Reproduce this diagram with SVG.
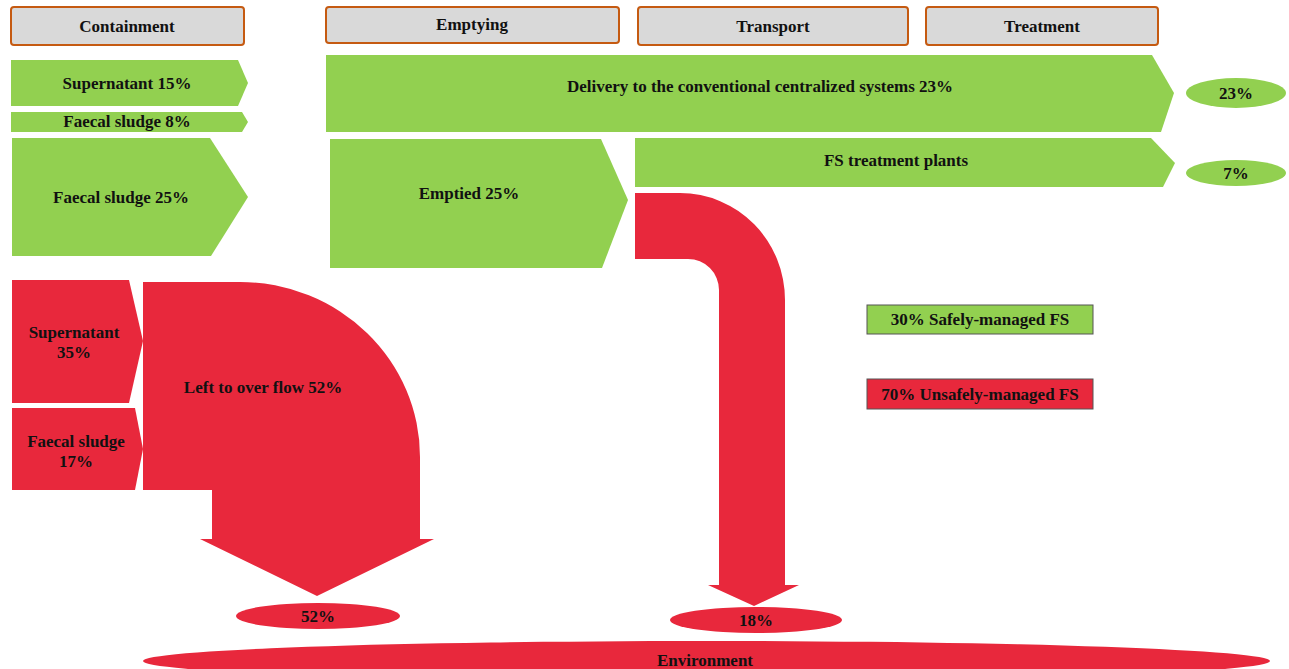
<svg xmlns="http://www.w3.org/2000/svg" width="1289" height="669" viewBox="0 0 1289 669">
<style>
.hdr{fill:#d9d9d9;stroke:#c55a11;stroke-width:2}
.g{fill:#92d050}
.r{fill:#e8283c}
.t{font-family:"Liberation Serif","Times New Roman",serif;font-weight:bold;font-size:17px;fill:#111;text-anchor:middle}
.leg{stroke:#555;stroke-width:1}
</style>
<rect width="1289" height="669" fill="#ffffff"/>
<g id="headers">
<g id="h-containment"><rect class="hdr" x="11" y="7" width="233" height="38" rx="3"/><text class="t" x="127" y="32">Containment</text></g>
<g id="h-emptying"><rect class="hdr" x="326" y="7" width="293" height="36" rx="3"/><text class="t" x="472" y="30">Emptying</text></g>
<g id="h-transport"><rect class="hdr" x="638" y="7" width="270" height="38" rx="3"/><text class="t" x="773" y="32">Transport</text></g>
<g id="h-treatment"><rect class="hdr" x="926" y="7" width="232" height="38" rx="3"/><text class="t" x="1042" y="32">Treatment</text></g>
</g>
<g id="connectors">
<path id="c-overflow" class="r" d="M143,282 L240,282 A180,175 0 0 1 420,457 L420,539 L434,539 L317,596 L200,539 L212,539 L212,490 L143,490 Z"/>
<path id="c-emptied-env" class="r" d="M635,193 L680,193 A105,107 0 0 1 785,300 L785,585 L799,585 L754,606 L708,585 L719,585 L719,290 A31,31 0 0 0 688,259 L635,259 Z"/>
</g>
<g id="n-supernatant15"><path class="g" d="M11,60 L238,60 L248,83 L238,106 L11,106 Z"/><text class="t" x="127" y="89">Supernatant 15%</text></g>
<g id="n-faecal8"><path class="g" d="M11,112 L242,112 L248,122 L242,132 L11,132 Z"/><text class="t" x="127" y="127">Faecal sludge 8%</text></g>
<g id="n-faecal25"><path class="g" d="M12,138 L210,138 L248,197 L211,256 L12,256 Z"/><text class="t" x="121" y="203">Faecal sludge 25%</text></g>
<g id="n-delivery"><path class="g" d="M326,55 L1152,55 L1174,93 L1161,132 L326,132 Z"/><text class="t" x="760" y="92">Delivery to the conventional centralized systems 23%</text></g>
<g id="n-emptied"><path class="g" d="M330,139 L601,139 L628,200 L602,268 L330,268 Z"/><text class="t" x="469" y="199">Emptied 25%</text></g>
<g id="n-fstp"><path class="g" d="M635,138 L1151,138 L1175,163 L1163,187 L635,187 Z"/><text class="t" x="896" y="166">FS treatment plants</text></g>
<g id="n-23"><ellipse class="g" cx="1236" cy="93" rx="50" ry="15"/><text class="t" x="1236" y="99">23%</text></g>
<g id="n-7"><ellipse class="g" cx="1236" cy="173" rx="50" ry="13"/><text class="t" x="1236" y="179">7%</text></g>
<g id="n-supernatant35"><path class="r" d="M12,280 L129,280 L143,341 L129,403 L12,403 Z"/><text class="t" x="74" y="338">Supernatant</text><text class="t" x="74" y="358">35%</text></g>
<g id="n-faecal17"><path class="r" d="M12,408 L135,408 L143,449 L135,490 L12,490 Z"/><text class="t" x="76" y="447">Faecal sludge</text><text class="t" x="76" y="467">17%</text></g>
<g id="n-overflow-label"><text class="t" x="263" y="393">Left to over flow 52%</text></g>
<g id="n-52"><ellipse class="r" cx="318" cy="616" rx="82" ry="13"/><text class="t" x="318" y="622">52%</text></g>
<g id="n-18"><ellipse class="r" cx="756" cy="620" rx="86" ry="13"/><text class="t" x="756" y="626">18%</text></g>
<g id="n-environment"><ellipse class="r" cx="706.5" cy="661" rx="563.5" ry="20"/><text class="t" x="705" y="666">Environment</text></g>
<g id="legend-safe"><rect class="g leg" x="867" y="305" width="226" height="29"/><text class="t" x="980" y="325">30% Safely-managed FS</text></g>
<g id="legend-unsafe"><rect class="r leg" x="867" y="379" width="226" height="30"/><text class="t" x="980" y="400">70% Unsafely-managed FS</text></g>
</svg>
